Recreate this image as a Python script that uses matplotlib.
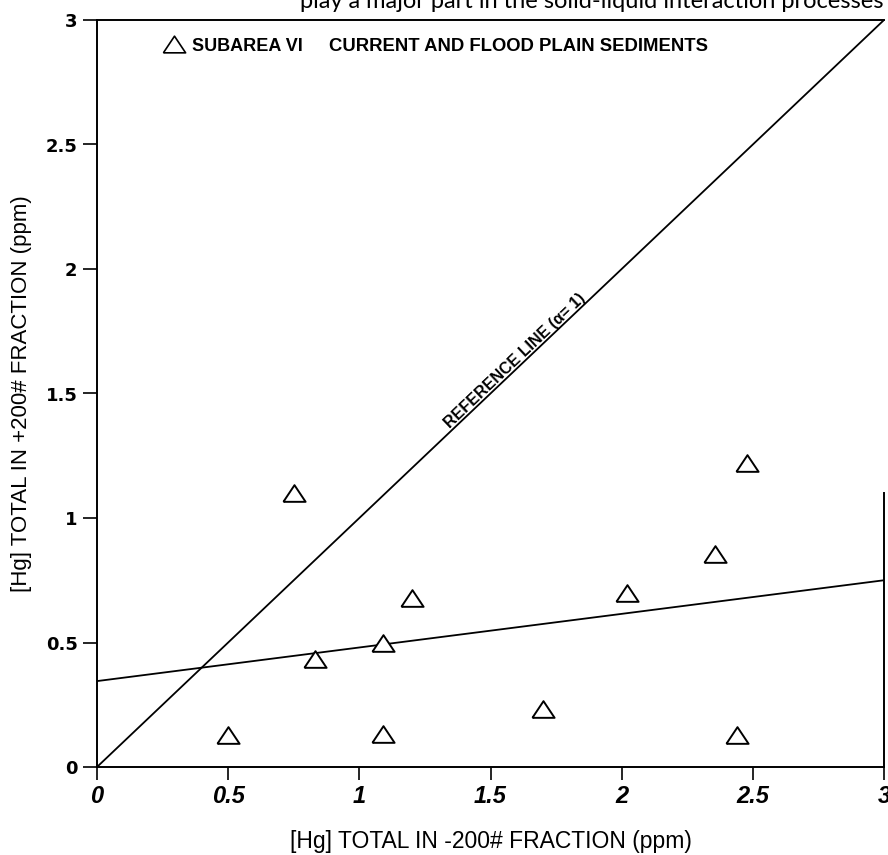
import matplotlib
matplotlib.use("Agg")
import matplotlib.pyplot as plt
from matplotlib.lines import Line2D

# values
hg_fine = [0.50, 0.75, 0.83, 1.09, 1.09, 1.20, 1.70, 2.02, 2.355, 2.44, 2.477]
hg_coarse = [0.13, 1.10, 0.435, 0.50, 0.133, 0.68, 0.234, 0.70, 0.855, 0.13, 1.22]

ref_x = [0, 3]
ref_y = [0, 3]
fit_x = [0, 3]
fit_y = [0.345, 0.75]

x_ticks = [0, 0.5, 1, 1.5, 2, 2.5, 3]
x_labels = ["0", "0.5", "1", "1.5", "2", "2.5", "3"]
y_ticks = [0, 0.5, 1, 1.5, 2, 2.5, 3]
y_labels = ["0", "0.5", "1", "1.5", "2", "2.5", "3"]

tri = [(-1, -0.75), (1, -0.75), (0, 0.75), (-1, -0.75)]

fig = plt.figure(figsize=(8.88, 8.55), dpi=100)
ax = fig.add_axes([97/888, 88/855, 787/888, 747/855])

ax.plot(ref_x, ref_y, color="black", lw=1.3)
ax.plot(fit_x, fit_y, color="black", lw=1.3)
ax.plot(hg_fine, hg_coarse, linestyle="none", marker=tri, ms=16,
        mfc="white", mec="black", mew=1.4)

ax.set_xlim(0, 3)
ax.set_ylim(0, 3)
ax.spines["right"].set_bounds(0, 1.1)
for s in ax.spines.values():
    s.set_linewidth(1.4)

ax.set_xticks(x_ticks)
ax.set_xticklabels(x_labels, fontsize=17, fontweight="bold", fontstyle="italic",
                   family="Liberation Sans")
ax.set_yticks(y_ticks)
ax.set_yticklabels(y_labels, fontsize=13, fontweight="bold", family="DejaVu Sans")
ax.tick_params(axis="x", direction="out", length=9, width=1.2, pad=4)
ax.tick_params(axis="y", direction="out", length=10, width=1.2, pad=4)

ax.set_xlabel("[Hg] TOTAL IN -200# FRACTION (ppm)", fontsize=16.5,
              family="Liberation Sans", labelpad=16)
ax.set_ylabel("[Hg] TOTAL IN +200# FRACTION (ppm)", fontsize=16,
              family="Liberation Sans", labelpad=10)

handle = Line2D([], [], linestyle="none", marker=tri, ms=16, mfc="white",
                mec="black", mew=1.2)
ax.legend([handle], ["SUBAREA VI"], loc="center left",
          bbox_to_anchor=(0.073, 0.965), frameon=False, borderpad=0,
          handlelength=1.2, handletextpad=0.4,
          prop={"family": "Liberation Sans", "weight": "bold", "size": 13})

ax.text(0.295, 0.965, "CURRENT AND FLOOD PLAIN SEDIMENTS", transform=ax.transAxes,
        ha="left", va="center", fontsize=13.3, fontweight="bold",
        family="Liberation Sans")

ax.text(1.605, 1.62, "REFERENCE LINE (\u03b1= 1)", rotation=43.5,
        rotation_mode="anchor", ha="center", va="baseline", fontsize=11.5,
        fontweight="bold", family="Liberation Sans")

# cut-off line of body text at the top of the scanned page
fig.text(300/888, 1 - 8/855, "play a major part in the solid-liquid interaction processes",
         ha="left", va="baseline", fontsize=17, family="Lato")

fig.savefig("out.png", dpi=100, facecolor="white")
